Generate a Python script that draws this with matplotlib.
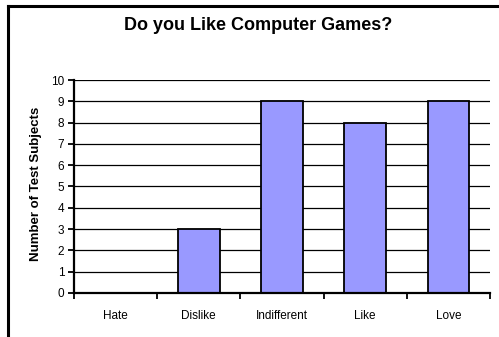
import matplotlib.pyplot as plt
import numpy as np
from matplotlib.lines import Line2D
from matplotlib.transforms import Bbox

categories = ["Hate", "Dislike", "Indifferent", "Like", "Love"]
subjects = [0, 3, 9, 8, 9]
y_ticks = list(range(0, 11))

plt.rcParams['font.family'] = ['Liberation Sans', 'DejaVu Sans']

fig = plt.figure(figsize=(4.99, 3.37), dpi=100)
ax = fig.add_axes([0.1483, 0.1306, 0.982 - 0.1483, 0.7626 - 0.1306])

x = np.arange(len(categories))
ax.bar(x, subjects, width=0.5, color='#9999FF', edgecolor='black', linewidth=1.3, zorder=3)

ax.set_xlim(-0.5, len(categories) - 0.5)
ax.set_ylim(0, 10)
ax.set_yticks(y_ticks)
ax.set_xticks(x)
ax.set_xticklabels(categories, fontsize=8.5)
ax.set_xticks(np.arange(-0.5, len(categories)), minor=True)
ax.tick_params(axis='x', which='major', length=0, pad=12)
ax.tick_params(axis='x', which='minor', length=4, width=1.3, direction='out')
ax.tick_params(axis='y', labelsize=8.5, length=4, width=1.3, direction='out', pad=3)

for v in y_ticks[1:]:
    ax.axhline(v, color='black', linewidth=0.9, zorder=1)

for s in ['top', 'right']:
    ax.spines[s].set_visible(False)
for s in ['left', 'bottom']:
    ax.spines[s].set_linewidth(1.6)
    ax.spines[s].set_zorder(4)

fig.text(258 / 499, 1 - 25 / 337, "Do you Like Computer Games?", fontsize=13,
         fontweight='bold', ha='center', va='center')

# y label, cut off at the top like the chart box does
ylab = fig.text(36 / 499, 1 - 184 / 337, "Number of Test Subjects", rotation=90,
                fontsize=9.5, fontweight='bold', ha='center', va='center')
ylab.set_clip_box(Bbox.from_extents(0, 0, 499, 337 - 108))
ylab.set_clip_on(True)

# outer chart frame
fig.add_artist(Line2D([8 / 499, 8 / 499], [0, 1 - 5.5 / 337], color='black', linewidth=2.2,
                      transform=fig.transFigure, solid_capstyle='projecting'))
fig.add_artist(Line2D([8 / 499, 1], [1 - 5.5 / 337, 1 - 5.5 / 337], color='black', linewidth=2.2,
                      transform=fig.transFigure, solid_capstyle='projecting'))

fig.savefig("out.png", dpi=100)
